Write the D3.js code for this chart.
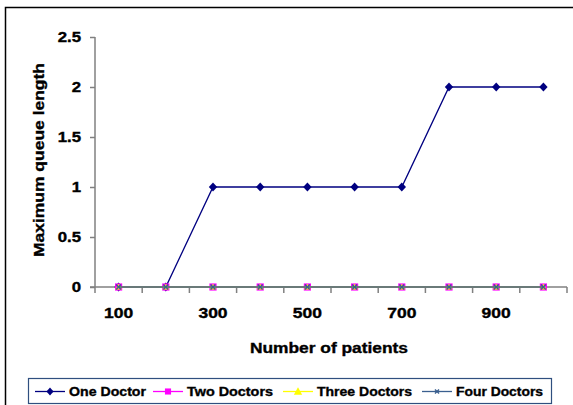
<!DOCTYPE html>
<html>
<head>
<meta charset="utf-8">
<script src="https://cdn.jsdelivr.net/npm/d3@7"></script>
<style>
  html, body { margin: 0; padding: 0; background: #fff; }
  svg { display: block; font-family: "Liberation Sans", Arial, sans-serif; font-weight: bold; }
  svg text { fill: #000; stroke: #000; stroke-width: 0.35px; }
</style>
</head>
<body>
<svg id="chart" width="573" height="405"></svg>
<script>
// Number of patients simulated
const patients = [100, 200, 300, 400, 500, 600, 700, 800, 900, 1000];
// Maximum queue length for each staffing level
const oneDoctor    = [0, 0, 1, 1, 1, 1, 1, 2, 2, 2];
const twoDoctors   = [0, 0, 0, 0, 0, 0, 0, 0, 0, 0];
const threeDoctors = [0, 0, 0, 0, 0, 0, 0, 0, 0, 0];
const fourDoctors  = [0, 0, 0, 0, 0, 0, 0, 0, 0, 0];
const xTickLabels = [100, 300, 500, 700, 900];
const yTicks = [0, 0.5, 1, 1.5, 2, 2.5];

const series = [
  { name: "One Doctor",    values: oneDoctor,    color: "#000080", marker: "diamond",  textLen: 77 },
  { name: "Two Doctors",   values: twoDoctors,   color: "#FF00FF", marker: "square",   textLen: 86 },
  { name: "Three Doctors", values: threeDoctors, color: "#FFFF00", marker: "triangle", textLen: 95 },
  { name: "Four Doctors",  values: fourDoctors,  color: "#3a5f8f", marker: "cross",    textLen: 87 }
];

const svg = d3.select("#chart");
const plot = { left: 95, right: 567, top: 37, bottom: 287 };

// Wide, heavy label text: scaled horizontally around its anchor point
function wideText(parent, px, py, str, size, sx, anchor) {
  return parent.append("text")
    .attr("transform", `translate(${px},${py}) scale(${sx},1)`)
    .attr("text-anchor", anchor)
    .style("font-size", size + "px")
    .text(str);
}

// Outer frame of the chart area
svg.append("path")
  .attr("d", "M5.5,410 V7.5 H580")
  .attr("fill", "none").attr("stroke", "#000").attr("stroke-width", 1.5);

const x = d3.scaleBand().domain(patients).range([plot.left, plot.right]);
const y = d3.scaleLinear().domain([0, 2.5]).range([plot.bottom, plot.top]);
const cx = d => x(d) + x.bandwidth() / 2;

// Y axis (ticks from the scale, labels drawn wide)
const yAxis = svg.append("g")
  .attr("transform", `translate(${plot.left},0)`)
  .call(d3.axisLeft(y).tickValues(yTicks).tickSize(5).tickFormat(""));
yAxis.select(".domain").attr("stroke", "#808080").attr("stroke-width", 1.5)
  .attr("d", `M0,${plot.top}V${plot.bottom}`);
yAxis.selectAll(".tick line").attr("stroke", "#808080").attr("stroke-width", 1.5);
yTicks.forEach(t => wideText(svg, 81, y(t) + 5, d3.format("")(t), 14, 1.2, "end"));

// X axis: ticks at category boundaries, labels on every other category
const xAxisG = svg.append("g").attr("transform", `translate(0,${plot.bottom})`);
xAxisG.append("line")
  .attr("x1", plot.left - 5).attr("x2", plot.right)
  .attr("stroke", "#808080").attr("stroke-width", 1.5);
const boundaries = patients.map(p => x(p)).concat([x(patients[patients.length - 1]) + x.bandwidth()]);
xAxisG.selectAll("line.tk").data(boundaries).join("line").attr("class", "tk")
  .attr("x1", d => d).attr("x2", d => d).attr("y1", 0).attr("y2", 6)
  .attr("stroke", "#808080").attr("stroke-width", 1.5);
xTickLabels.forEach(v => wideText(xAxisG, cx(v), 31, v, 14, 1.25, "middle"));

// Axis titles
svg.append("text").attr("x", 329).attr("y", 352.5).attr("text-anchor", "middle")
  .attr("textLength", 158).attr("lengthAdjust", "spacingAndGlyphs")
  .style("font-size", "14px").text("Number of patients");
svg.append("text").attr("transform", "translate(43.5,160) rotate(-90)")
  .attr("text-anchor", "middle")
  .attr("textLength", 194).attr("lengthAdjust", "spacingAndGlyphs")
  .style("font-size", "14px").text("Maximum queue length");

// Marker drawing; k scales the marker
function drawMarker(g, type, color, k) {
  if (type === "diamond") {
    const w = 4.2 * k, h = 4.6 * k;
    g.append("path").attr("d", `M0,${-h}L${w},0L0,${h}L${-w},0Z`).attr("fill", color);
  } else if (type === "square") {
    const s = 3.6 * k;
    g.append("path").attr("d", `M${-s},${-s}H${s}V${s}H${-s}Z`).attr("fill", color);
  } else if (type === "triangle") {
    const s = 3.2 * k;
    g.append("path").attr("d", `M0,${-s}L${s},${s * 0.8}L${-s},${s * 0.8}Z`).attr("fill", color);
  } else if (type === "cross") {
    const s = 2.4 * k;
    g.append("path").attr("d", `M${-s},${-s}L${s},${s}M${-s},${s}L${s},${-s}`)
      .attr("stroke", color).attr("stroke-width", 1.4).attr("fill", "none");
  }
}

const line = d3.line().x((d, i) => cx(patients[i])).y(d => y(d));
series.forEach(s => {
  svg.append("path").datum(s.values).attr("d", line)
    .attr("fill", "none").attr("stroke", s.color).attr("stroke-width", 1.3);
  s.values.forEach((v, i) => {
    const g = svg.append("g").attr("transform", `translate(${cx(patients[i])},${y(v)})`);
    drawMarker(g, s.marker, s.color, 1);
  });
});

// Legend
const legend = svg.append("g");
legend.append("rect").attr("x", 28.5).attr("y", 378.5).attr("width", 523).attr("height", 25)
  .attr("fill", "#fff").attr("stroke", "#2f4f7f").attr("stroke-width", 1.2);
const legendX = [35, 153, 283, 422];
series.forEach((s, i) => {
  const g = legend.append("g").attr("transform", `translate(${legendX[i]},391.5)`);
  g.append("line").attr("x1", 0).attr("x2", 30)
    .attr("stroke", s.color).attr("stroke-width", 1.3);
  const m = g.append("g").attr("transform", "translate(15,0)");
  drawMarker(m, s.marker, s.color, s.marker === "triangle" ? 1.3 : 0.85);
  g.append("text").attr("x", 34).attr("y", 4.5)
    .attr("textLength", s.textLen).attr("lengthAdjust", "spacingAndGlyphs")
    .style("font-size", "12.5px").text(s.name);
});
</script>
</body>
</html>
